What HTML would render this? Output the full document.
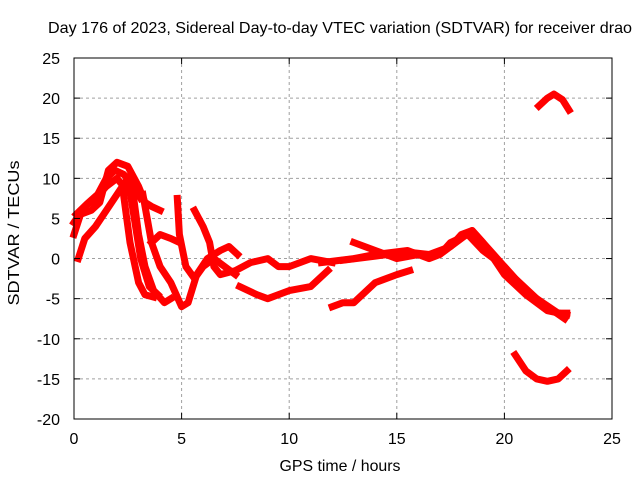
<!DOCTYPE html>
<html><head><meta charset="utf-8"><style>
html,body{margin:0;padding:0;background:#fff;}
svg text{font-family:"Liberation Sans",sans-serif;font-size:16px;fill:#000;}
</style></head><body>
<svg id="chart" width="640" height="480" xmlns="http://www.w3.org/2000/svg">
<rect width="640" height="480" fill="#fff"/>
<g id="grid"></g>
<g id="series"></g>
<g id="axes"></g>
<text x="340" y="33" text-anchor="middle" textLength="584" lengthAdjust="spacingAndGlyphs">Day 176 of 2023, Sidereal Day-to-day VTEC variation (SDTVAR) for receiver drao</text>
<text x="340" y="471" text-anchor="middle" textLength="121" lengthAdjust="spacingAndGlyphs">GPS time / hours</text>
<text x="0" y="0" text-anchor="middle" textLength="145" lengthAdjust="spacingAndGlyphs" transform="translate(19,233) rotate(-90)">SDTVAR / TECUs</text>
</svg>
<script>
const xTicks=[0,5,10,15,20,25];
const yTicks=[25,20,15,10,5,0,-5,-10,-15,-20];
const s1x=[0,0.3,0.8,1.2,1.6,2.0,2.5,3.0,3.3,3.6,4.0];
const s1y=[3,5.5,6,7,11,12,11.5,9,7,6.5,6];
const s2x=[0,0.5,1.0,1.5,2.0,2.3,2.6];
const s2y=[4.5,6.5,7.5,9,10,9,8];
const s3x=[0.2,0.5,1.0,1.5,2.0,2.5,2.8];
const s3y=[0,2.5,4,6,8,10,9];
const s4x=[2.3,2.6,3.0,3.3,3.7];
const s4y=[8,2,-3,-4.5,-4.8];
const s5x=[2.7,3.0,3.3,3.7,4.2,4.5];
const s5y=[9,3,-1,-4,-5.5,-5];
const s6x=[3.2,3.6,4.0,4.5,5.0,5.3,5.7,6.2,6.8,7.2,7.6];
const s6y=[8,2,-1,-3,-6,-5.5,-2,0,1,1.5,0.5];
const s7x=[4.8,4.9,5.2,5.6,6.0,6.5,7.0,7.5];
const s7y=[7.5,3,-1,-2.5,-1,0,-1,-2];
const s8x=[5.6,6.0,6.3,6.5,6.8,7.5,8.2,9.0,9.5,10,11,12];
const s8y=[6,4,2,-1,-2,-1.5,-0.5,0,-1,-1,0,-0.5];
const s9x=[7.7,8.5,9.0,10,11,11.8];
const s9y=[-3.5,-4.5,-5,-4,-3.5,-1.5];
const s10x=[3.6,4.0,4.5,4.9];
const s10y=[2,3,2.5,2];
const s11x=[12,12.5,13,14,15,15.6];
const s11y=[-6,-5.5,-5.5,-3,-2,-1.5];
const s12x=[13,14,15,16,17,17.5,18,18.5,19,20,21,22,22.9];
const s12y=[2,1,0,0.5,0.5,1.5,3,3.5,2,-2,-4.5,-6.5,-7];
const s13x=[11.5,13,14,15.5,16.5,17,17.5,18.3,19,20,21,22,22.8];
const s13y=[-0.5,0,0.5,1,0,0.5,2,3,1,-1,-4,-6,-7.5];
const s14x=[20.5,21,21.5,22,22.5,22.9];
const s14y=[-12,-14,-15,-15.3,-15,-14];
const s15x=[21.6,22,22.3,22.7,23];
const s15y=[19,20,20.5,19.8,18.5];
const s16x=[0.1,0.6,1.1,1.5,1.9,2.3,2.7,3.1];
const s16y=[5.5,6.8,8,10,11,10.5,9.5,7.5];
const s17x=[2.5,2.8,3.1,3.5,3.9];
const s17y=[10,5,0,-3.5,-4.5];
const s18x=[12.5,14,15.5,16.5,17.5,18.5,19.5,20.5,21.5,22.5,22.9];
const s18y=[-0.2,0.3,0.8,0.5,1.5,3.5,0.5,-2.5,-5,-6.8,-6.8];
const seriesX=[s1x,s2x,s3x,s4x,s5x,s6x,s7x,s8x,s9x,s10x,s11x,s12x,s13x,s14x,s15x,s16x,s17x,s18x];
const seriesY=[s1y,s2y,s3y,s4y,s5y,s6y,s7y,s8y,s9y,s10y,s11y,s12y,s13y,s14y,s15y,s16y,s17y,s18y];

const L=74,R=612,T=58,B=419;
const xs=v=>L+(v-0)/(25-0)*(R-L);
const ys=v=>B-(v+20)/(45)*(B-T);
const NS="http://www.w3.org/2000/svg";
function mk(tag,attrs,parent){const e=document.createElementNS(NS,tag);for(const k in attrs)e.setAttribute(k,attrs[k]);parent.appendChild(e);return e;}
const grid=document.getElementById('grid'),axes=document.getElementById('axes'),ser=document.getElementById('series');
xTicks.forEach(t=>{
  const x=xs(t);
  if(t>0&&t<25){const g=mk('line',{x1:x,x2:x,y1:T,y2:B,stroke:'#a0a0a0','stroke-dasharray':'3,3','stroke-width':1},grid);
  
  }
  mk('line',{x1:x,x2:x,y1:B,y2:B-6,stroke:'#000'},axes);
  mk('line',{x1:x,x2:x,y1:T,y2:T+6,stroke:'#000'},axes);
  const tx=mk('text',{x:x,y:B+25,'text-anchor':'middle'},axes);tx.textContent=t;
  
  
});
yTicks.forEach(t=>{
  const y=ys(t);
  if(t>-20&&t<25){const g=mk('line',{x1:L,x2:R,y1:y,y2:y,stroke:'#a0a0a0','stroke-dasharray':'3,3','stroke-width':1},grid);
  
  }
  mk('line',{x1:L,x2:L+6,y1:y,y2:y,stroke:'#000'},axes);
  mk('line',{x1:R,x2:R-6,y1:y,y2:y,stroke:'#000'},axes);
  const tx=mk('text',{x:L-14,y:y+6,'text-anchor':'end'},axes);tx.textContent=t;
  
  
});
const bd=mk('rect',{x:L,y:T,width:R-L,height:B-T,fill:'none',stroke:'#000','stroke-width':1},axes);


seriesX.forEach((sx,i)=>{
  const sy=seriesY[i];
  const d=sx.map((v,j)=>(j?'L':'M')+xs(v).toFixed(1)+','+ys(sy[j]).toFixed(1)).join(' ');
  const p=mk('path',{d:d,fill:'none',stroke:'#ff0000','stroke-width':7,'stroke-linejoin':'round','stroke-linecap':'square'},ser);
  
  
});
</script>
</body></html>
